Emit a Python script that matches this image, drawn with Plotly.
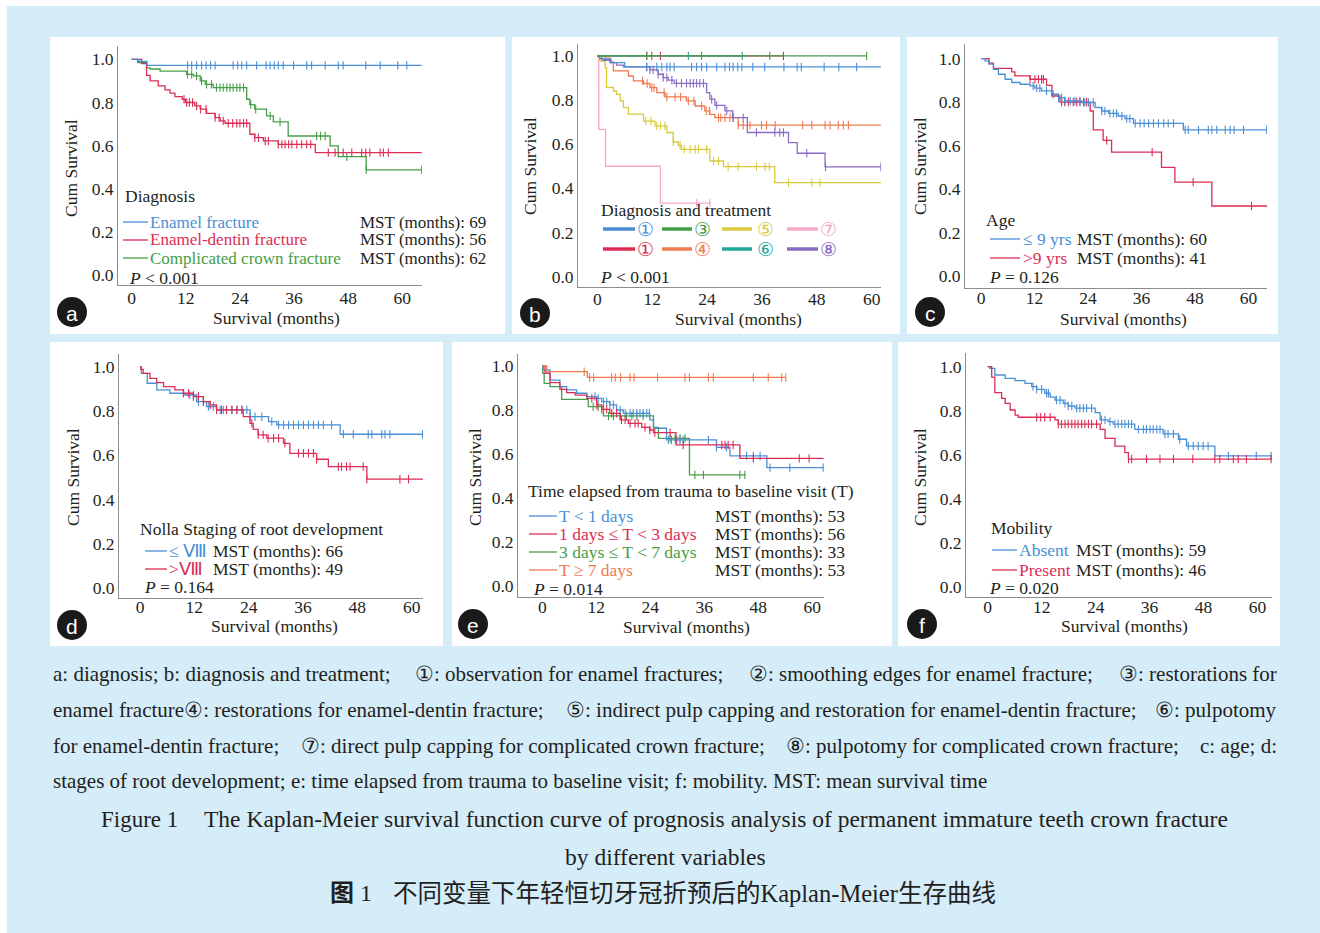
import numpy as np
import plotly.graph_objects as go

W, H = 1320, 933
SERIF = "Liberation Serif, Times New Roman, serif"
CJK = "Liberation Serif, Noto Sans CJK SC, serif"
DARK = "#231f20"
AXC = "#8c8c8c"
BG = "#d5ecf9"

BLUE = "#4a8fd6"
RED = "#dc2d55"
GREEN = "#459e48"
ORANGE = "#f07a50"
YELLOW = "#d8ca3c"
PINK = "#f4a9c8"
TEAL = "#22a89a"
PURPLE = "#8a6cc4"

X_TICKS = [0, 12, 24, 36, 48, 60]
Y_TICKS = [0.0, 0.2, 0.4, 0.6, 0.8, 1.0]
Y_TICK_TEXT = ["0.0", "0.2", "0.4", "0.6", "0.8", "1.0"]

# ---------------- panel a : diagnosis ----------------
A_ENAMEL_T = [1.5, 3.4]
A_ENAMEL_S = [0.99, 0.972]
A_ENAMEL_C = [12.4, 13.3, 14.4, 15.5, 16.5, 17.5, 18.5, 22.5, 23.5, 24.4, 25.5, 27.7, 29.8, 30.7,
              31.6, 32.5, 33.6, 35.9, 38.8, 39.9, 42.9, 45.8, 46.9, 51.9, 55.1, 59.0, 61.0]
A_ENAMEL_END = 64.3

A_DENTIN_T = [2.2, 3.3, 4.1, 5.9, 7.4, 8.5, 9.6, 11.2, 11.9, 14.0, 15.2, 16.6, 18.5, 19.6, 20.7,
              26.2, 27.3, 29.2, 32.5, 40.7]
A_DENTIN_S = [0.98, 0.926, 0.90, 0.877, 0.858, 0.843, 0.827, 0.815, 0.80, 0.784, 0.769, 0.75, 0.73,
              0.715, 0.704, 0.653, 0.637, 0.622, 0.606, 0.568]
A_DENTIN_C = [11.6, 12.2, 12.8, 13.5, 14.4, 15.3, 16.5, 18.5, 19.4, 20.3, 21.4, 22.4, 23.3, 24.0,
              24.8, 25.5, 27.3, 28.1, 29.6, 30.3, 32.5, 33.3, 34.0, 34.8, 35.5, 36.6, 37.7, 38.8,
              39.7, 43.6, 45.1, 46.9, 48.8, 51.0, 51.9, 52.8, 55.1, 55.8, 56.9]
A_DENTIN_END = 64.3

A_COMPL_T = [1.3, 3.3, 4.1, 6.3, 12.2, 13.7, 15.2, 16.3, 18.1, 25.5, 26.2, 27.3, 29.9, 31.4, 34.7,
             44.0, 45.8, 52.0]
A_COMPL_S = [0.985, 0.96, 0.955, 0.945, 0.93, 0.923, 0.90, 0.884, 0.869, 0.815, 0.79, 0.769, 0.738,
             0.71, 0.645, 0.599, 0.549, 0.488]
A_COMPL_C = [12.4, 13.3, 14.4, 15.5, 16.6, 17.7, 18.8, 19.6, 20.3, 21.1, 21.8, 22.5, 23.3, 24.0,
             24.8, 26.4, 27.5, 30.7, 32.9, 41.0, 41.9, 42.9, 47.7, 52.0, 64.3]
A_COMPL_END = 64.3

# ---------------- panel b : diagnosis and treatment ----------------
B1_T = [1.0, 3.0, 6.0]
B1_S = [0.985, 0.97, 0.95]
B1_C = [10.8, 13.0, 14.1, 15.2, 15.9, 16.8, 20.6, 21.7, 22.8, 23.9, 26.1, 27.9, 28.9, 29.7, 30.7,
        31.6, 34.0, 36.6, 40.8, 43.7, 44.6, 49.6, 52.8, 56.7]
B1_END = 62.0

B2_T, B2_S = [], []
B2_C = [10.8, 11.9, 13.8, 40.7]
B2_END = 40.7

B3_T, B3_S = [], []
B3_C = [10.8, 22.8, 37.7, 58.9]
B3_END = 58.9

B6_T, B6_S = [], []
B6_C = [19.9, 31.7]
B6_END = 31.7

B4_T = [1.7, 2.8, 3.5, 6.8, 7.9, 10.1, 11.5, 13.0, 14.8, 19.5, 21.4, 23.5, 24.6, 25.7, 30.8]
B4_S = [0.99, 0.973, 0.932, 0.909, 0.887, 0.875, 0.856, 0.834, 0.814, 0.796, 0.773, 0.751, 0.735,
        0.72, 0.686]
B4_C = [9.9, 10.9, 11.9, 12.4, 14.6, 15.2, 17.0, 18.2, 19.9, 21.1, 22.8, 23.8, 24.5, 26.5, 27.0,
        27.9, 29.0, 29.7, 30.8, 31.9, 33.4, 35.9, 37.0, 38.9, 44.9, 46.9, 49.8, 50.9, 52.7, 53.8, 54.9]
B4_END = 62.0

B5_T = [0.6, 1.7, 2.0, 3.5, 4.2, 5.0, 5.7, 6.8, 10.1, 12.6, 15.2, 16.6, 17.7, 18.4, 24.6, 27.6, 38.8]
B5_S = [0.977, 0.947, 0.857, 0.841, 0.826, 0.796, 0.766, 0.736, 0.705, 0.683, 0.653, 0.61, 0.595,
        0.577, 0.524, 0.498, 0.426]
B5_C = [10.6, 11.7, 13.0, 13.8, 14.8, 16.6, 18.1, 19.0, 20.3, 21.4, 22.1, 23.9, 25.4, 26.5, 28.6,
        30.8, 34.8, 36.7, 37.6, 41.8, 46.9, 48.7]
B5_END = 62.0

B7_T = [0.3, 1.8, 13.8]
B7_S = [0.667, 0.5, 0.333]
B7_C = [21.7, 24.6]
B7_END = 24.9

B8_T = [0.5, 1.3, 2.8, 4.2, 5.7, 11.5, 13.3, 14.4, 15.5, 16.8, 23.9, 24.6, 25.7, 27.9, 29.6, 32.8,
        41.8, 43.7, 49.8]
B8_S = [0.988, 0.98, 0.97, 0.958, 0.95, 0.937, 0.917, 0.902, 0.89, 0.876, 0.834, 0.804, 0.776, 0.751,
        0.72, 0.653, 0.607, 0.559, 0.497]
B8_C = [10.8, 11.5, 12.2, 13.3, 14.4, 15.2, 16.3, 17.3, 18.4, 19.5, 20.3, 21.0, 21.7, 22.4, 23.2,
        25.0, 26.1, 28.3, 29.7, 31.9, 34.8, 38.8, 39.9, 40.7, 45.8, 49.9, 62.0]
B8_END = 62.0

# ---------------- panel c : age ----------------
C_YOUNG_T = [0.9, 1.8, 2.8, 3.9, 5.4, 6.9, 8.8, 11.0, 12.1, 13.6, 15.9, 17.4, 18.8, 22.6, 25.6, 27.1,
             28.6, 30.8, 32.3, 34.2, 45.4]
C_YOUNG_S = [0.989, 0.974, 0.951, 0.928, 0.905, 0.89, 0.882, 0.874, 0.864, 0.851, 0.836, 0.82, 0.805,
             0.798, 0.775, 0.759, 0.748, 0.736, 0.724, 0.702, 0.672]
C_YOUNG_C = [11.7, 12.5, 13.2, 14.7, 16.2, 17.4, 18.1, 18.8, 20.0, 21.1, 22.2, 23.3, 24.1, 25.2, 27.1,
             27.8, 28.9, 29.7, 30.4, 31.6, 32.7, 33.4, 34.6, 35.7, 36.6, 37.6, 38.7, 39.8, 41.0, 42.0,
             43.2, 45.8, 46.5, 48.8, 51.0, 51.8, 52.9, 54.8, 55.9, 56.8, 58.9, 64.1]
C_YOUNG_END = 64.2

C_OLD_T = [1.8, 2.8, 6.9, 7.6, 11.0, 14.7, 15.9, 17.7, 24.5, 25.2, 27.4, 29.3, 40.5, 43.5, 51.8]
C_OLD_S = [0.979, 0.955, 0.939, 0.92, 0.905, 0.877, 0.828, 0.80, 0.759, 0.672, 0.624, 0.57, 0.50,
           0.432, 0.322]
C_OLD_C = [11.0, 12.1, 12.9, 13.6, 14.0, 18.1, 18.8, 19.6, 20.7, 21.5, 22.2, 23.0, 23.7, 28.2, 38.4,
           47.6, 60.7]
C_OLD_END = 64.2

# ---------------- panel d : Nolla stage ----------------
D_LOW_T = [0.3, 1.6, 3.7, 6.6, 9.6, 12.5, 14.7, 16.9, 24.3, 28.4, 30.2, 44.2]
D_LOW_S = [0.97, 0.925, 0.895, 0.88, 0.872, 0.842, 0.82, 0.805, 0.774, 0.752, 0.737, 0.695]
D_LOW_C = [11.0, 11.8, 12.9, 14.0, 15.1, 16.2, 16.9, 17.7, 18.4, 19.1, 20.3, 21.4, 22.5, 23.6, 24.3,
           25.4, 26.9, 29.1, 30.6, 31.7, 32.8, 33.9, 35.0, 36.1, 37.2, 38.3, 39.4, 40.5, 42.3, 44.9,
           47.1, 50.4, 51.2, 53.4, 54.1, 55.2, 62.4]
D_LOW_END = 62.5

D_HIGH_T = [0.2, 0.7, 2.2, 3.7, 5.2, 7.7, 9.6, 11.8, 14.0, 15.5, 16.9, 22.8, 24.3, 25.0, 26.1, 28.0,
            31.7, 33.1, 39.0, 41.6, 50.1]
D_HIGH_S = [0.988, 0.97, 0.947, 0.928, 0.91, 0.895, 0.88, 0.865, 0.842, 0.827, 0.805, 0.774, 0.744,
            0.717, 0.692, 0.677, 0.654, 0.609, 0.582, 0.549, 0.492]
D_HIGH_C = [9.6, 10.7, 11.8, 12.9, 14.0, 15.5, 16.9, 18.0, 19.1, 20.3, 21.4, 22.5, 24.7, 26.1, 27.2,
            28.3, 29.5, 30.6, 32.0, 35.0, 36.1, 37.2, 38.3, 39.0, 43.8, 44.5, 45.6, 46.4, 49.3, 50.1,
            57.4, 59.3]
D_HIGH_END = 62.5

# ---------------- panel e : time to visit ----------------
E_LT1_T = [0.2, 1.7, 3.9, 5.4, 7.6, 9.9, 12.1, 13.2, 15.0, 16.5, 18.0, 23.9, 24.7, 27.6, 38.7, 41.7, 49.9]
E_LT1_S = [0.982, 0.936, 0.906, 0.891, 0.876, 0.861, 0.853, 0.838, 0.823, 0.80, 0.785, 0.755, 0.717,
           0.664, 0.63, 0.591, 0.538]
E_LT1_C = [11.7, 12.4, 13.6, 14.3, 15.0, 15.8, 17.3, 18.4, 19.5, 20.2, 21.0, 21.7, 22.4, 23.2, 23.8,
           28.0, 28.7, 29.9, 30.6, 31.3, 36.9, 38.7, 40.9, 45.4, 46.9, 48.4, 50.6, 55.0, 62.4]
E_LT1_END = 62.5

E_1TO3_T = [0.6, 1.7, 3.9, 5.4, 7.3, 9.9, 12.1, 13.2, 15.0, 17.3, 19.1, 22.1, 23.9, 24.7, 29.7, 43.9]
E_1TO3_S = [0.967, 0.924, 0.894, 0.879, 0.868, 0.853, 0.823, 0.803, 0.785, 0.755, 0.739, 0.721, 0.709,
            0.697, 0.641, 0.58]
E_1TO3_C = [11.0, 12.1, 13.2, 14.3, 15.4, 16.5, 17.6, 18.4, 19.5, 20.6, 21.3, 22.8, 23.9, 25.0, 28.4,
            31.3, 39.9, 40.6, 41.3, 42.4, 46.9, 57.1, 59.3]
E_1TO3_END = 62.5

E_3TO7_T = [0.1, 0.4, 1.7, 4.3, 10.2, 13.6, 24.7, 25.8, 32.7]
E_3TO7_S = [0.967, 0.921, 0.906, 0.848, 0.815, 0.773, 0.721, 0.671, 0.505]
E_3TO7_C = [11.3, 12.4, 14.7, 15.8, 17.3, 18.7, 19.9, 21.0, 22.4, 28.4, 29.5, 30.6, 31.7, 33.9, 35.8,
            43.9, 45.0]
E_3TO7_END = 45.2

E_GE7_T = [1.0, 10.0]
E_GE7_S = [0.974, 0.948]
E_GE7_C = [9.3, 10.5, 11.4, 15.4, 16.2, 17.4, 19.5, 20.4, 25.6, 31.7, 32.7, 36.9, 38.0, 46.9, 50.2,
           53.2, 54.1]
E_GE7_END = 54.1

# ---------------- panel f : mobility ----------------
F_ABS_T = [0.5, 1.6, 3.9, 6.1, 8.3, 9.8, 10.9, 12.7, 13.9, 15.0, 16.8, 17.9, 19.4, 23.9, 25.0, 26.8,
           27.9, 32.7, 39.0, 42.4, 44.2, 50.5]
F_ABS_S = [0.992, 0.962, 0.947, 0.936, 0.924, 0.909, 0.897, 0.879, 0.861, 0.848, 0.833, 0.821, 0.811,
           0.791, 0.758, 0.75, 0.739, 0.715, 0.694, 0.67, 0.639, 0.594]
F_ABS_C = [10.1, 10.9, 12.0, 13.1, 13.5, 15.3, 16.1, 17.2, 17.9, 18.7, 19.8, 20.5, 21.3, 22.0, 23.1,
           25.3, 26.1, 27.2, 28.3, 29.0, 29.8, 30.5, 31.3, 32.0, 33.5, 34.6, 35.3, 36.1, 36.8, 37.6,
           38.3, 39.4, 40.1, 41.3, 42.7, 44.6, 45.7, 46.8, 47.9, 49.0, 53.5, 59.7, 63.0]
F_ABS_END = 63.0

F_PRES_T = [0.9, 1.6, 3.1, 3.9, 5.0, 6.1, 6.8, 15.0, 15.7, 25.0, 26.1, 28.3, 30.5, 31.3]
F_PRES_S = [0.952, 0.882, 0.856, 0.833, 0.803, 0.78, 0.77, 0.758, 0.739, 0.715, 0.674, 0.639, 0.609, 0.58]
F_PRES_C = [10.9, 11.8, 12.7, 13.9, 15.7, 16.4, 17.2, 17.9, 18.7, 19.4, 20.1, 20.9, 21.6, 22.4, 23.1,
            24.2, 31.3, 32.0, 35.3, 38.3, 41.3, 45.6, 50.5, 51.6, 54.6, 55.7, 57.5, 63.0]
F_PRES_END = 63.0

# ---------------- layout geometry (pixels) ----------------
# key, axis-left, axis-right, axis-top, axis-bottom, xmin, xmax, ymin, ymax, x-ticklabel standoff
PANEL_AXES = [
    ("a", 118, 422, 46, 285, -3.03, 64.37, -0.045, 1.0616, -3),
    ("b", 578, 881, 44, 287, -4.23, 62.03, -0.047, 1.054, -4),
    ("c", 965, 1267, 44, 288, -3.59, 64.17, -0.055, 1.067, -6),
    ("d", 119, 423, 354, 598, -4.64, 62.5, -0.044, 1.057, -7),
    ("e", 518, 824, 354, 597, -5.41, 62.6, -0.05, 1.0545, -6),
    ("f", 966, 1272, 353, 597, -4.81, 63.2, -0.047, 1.062, -6),
]
PANEL_BOXES = [(50, 505, 37, 334), (512, 900, 37, 334), (907, 1278, 37, 334),
               (50, 443, 342, 646), (452, 892, 342, 646), (898, 1280, 342, 646)]
BADGES = [(72, 312), (535, 313), (930, 312), (72, 625), (473, 624), (922, 624)]
YTITLE_POS = [(71, 168), (530, 166), (920, 166), (73, 477), (475, 477), (920, 477)]
XTITLE_POS = [(276, 318), (738, 319), (1123, 319), (274, 626), (686, 627), (1124, 626)]


def fx(p):
    return p / W


def fy(p):
    return 1 - p / H


def axis_name(i):
    return "" if i == 0 else str(i + 1)


def km_line(T, S, end):
    xs = [0.0] + list(T) + [end]
    ys = [1.0] + list(S) + [S[-1] if len(S) else 1.0]
    return xs, ys


def censor_y(T, S, C):
    idx = np.searchsorted(np.asarray(T, dtype=float), np.asarray(C, dtype=float), side="right")
    full = np.concatenate([[1.0], np.asarray(S, dtype=float)])
    return full[idx]


CURVES = [
    (0, GREEN, A_COMPL_T, A_COMPL_S, A_COMPL_C, A_COMPL_END),
    (0, RED, A_DENTIN_T, A_DENTIN_S, A_DENTIN_C, A_DENTIN_END),
    (0, BLUE, A_ENAMEL_T, A_ENAMEL_S, A_ENAMEL_C, A_ENAMEL_END),
    (1, PINK, B7_T, B7_S, B7_C, B7_END),
    (1, YELLOW, B5_T, B5_S, B5_C, B5_END),
    (1, ORANGE, B4_T, B4_S, B4_C, B4_END),
    (1, PURPLE, B8_T, B8_S, B8_C, B8_END),
    (1, BLUE, B1_T, B1_S, B1_C, B1_END),
    (1, RED, B2_T, B2_S, B2_C, B2_END),
    (1, TEAL, B6_T, B6_S, B6_C, B6_END),
    (1, GREEN, B3_T, B3_S, B3_C, B3_END),
    (2, RED, C_OLD_T, C_OLD_S, C_OLD_C, C_OLD_END),
    (2, BLUE, C_YOUNG_T, C_YOUNG_S, C_YOUNG_C, C_YOUNG_END),
    (3, BLUE, D_LOW_T, D_LOW_S, D_LOW_C, D_LOW_END),
    (3, RED, D_HIGH_T, D_HIGH_S, D_HIGH_C, D_HIGH_END),
    (4, GREEN, E_3TO7_T, E_3TO7_S, E_3TO7_C, E_3TO7_END),
    (4, BLUE, E_LT1_T, E_LT1_S, E_LT1_C, E_LT1_END),
    (4, RED, E_1TO3_T, E_1TO3_S, E_1TO3_C, E_1TO3_END),
    (4, ORANGE, E_GE7_T, E_GE7_S, E_GE7_C, E_GE7_END),
    (5, BLUE, F_ABS_T, F_ABS_S, F_ABS_C, F_ABS_END),
    (5, RED, F_PRES_T, F_PRES_S, F_PRES_C, F_PRES_END),
]

fig = go.Figure()
for (p, col, T, S, C, end) in CURVES:
    n = axis_name(p)
    xs, ys = km_line(T, S, end)
    fig.add_trace(go.Scatter(x=xs, y=ys, mode="lines", xaxis="x" + n, yaxis="y" + n,
                             line=dict(color=col, width=1.3, shape="hv"),
                             showlegend=False, hoverinfo="skip"))
    fig.add_trace(go.Scatter(x=C, y=censor_y(T, S, C), mode="markers", xaxis="x" + n, yaxis="y" + n,
                             marker=dict(symbol="line-ns", size=6, color=col,
                                         line=dict(color=col, width=1.1)),
                             showlegend=False, hoverinfo="skip"))

layout = dict(width=W, height=H, margin=dict(l=0, r=0, t=0, b=0), autosize=False,
              paper_bgcolor="white", plot_bgcolor="rgba(0,0,0,0)", showlegend=False)
TICKFONT = dict(family=SERIF, size=17.5, color=DARK)
for i, (key, l, r, t, b, x0, x1, y0, y1, stand) in enumerate(PANEL_AXES):
    n = axis_name(i)
    layout["xaxis" + n] = dict(domain=[fx(l), fx(r)], range=[x0, x1], anchor="y" + n,
                               tickvals=X_TICKS, ticktext=[str(v) for v in X_TICKS],
                               showline=True, linecolor=AXC, linewidth=1, showgrid=False,
                               zeroline=False, ticks="", tickfont=TICKFONT, fixedrange=True,
                               ticklabelstandoff=stand)
    layout["yaxis" + n] = dict(domain=[fy(b), fy(t)], range=[y0, y1], anchor="x" + n,
                               tickvals=Y_TICKS, ticktext=Y_TICK_TEXT,
                               showline=True, linecolor=AXC, linewidth=1, showgrid=False,
                               zeroline=False, ticks="", tickfont=TICKFONT, fixedrange=True)

shapes = []
shapes.append(dict(type="rect", xref="paper", yref="paper", x0=fx(7), x1=fx(1320), y0=fy(933), y1=fy(6),
                   fillcolor=BG, line=dict(width=0), layer="below"))
for (l, r, t, b) in PANEL_BOXES:
    shapes.append(dict(type="rect", xref="paper", yref="paper", x0=fx(l), x1=fx(r), y0=fy(b), y1=fy(t),
                       fillcolor="white", line=dict(width=0), layer="below"))
for (cx, cy) in BADGES:
    shapes.append(dict(type="circle", xref="paper", yref="paper", x0=fx(cx - 15), x1=fx(cx + 15),
                       y0=fy(cy + 15), y1=fy(cy - 15), fillcolor="#1a1a1a", line=dict(width=0)))

annotations = []


def text(x, y, s, size=17.5, color=DARK, xa="left", family=SERIF, angle=0):
    annotations.append(dict(x=fx(x), y=fy(y), xref="paper", yref="paper", text=s, showarrow=False,
                            xanchor=xa, yanchor="middle", textangle=angle, borderpad=0,
                            font=dict(size=size, color=color, family=family)))


def legline(x0, x1, y, col, w=1.3):
    shapes.append(dict(type="line", xref="paper", yref="paper", x0=fx(x0), x1=fx(x1), y0=fy(y), y1=fy(y),
                       line=dict(color=col, width=w)))


for i, (bx, by) in enumerate(BADGES):
    text(bx, by + 1, "abcdef"[i], size=21, color="white", xa="center",
         family="Liberation Sans, Arial, sans-serif")
for (x, y) in YTITLE_POS:
    text(x, y, "Cum Survival", xa="center", angle=-90)
for (x, y) in XTITLE_POS:
    text(x, y, "Survival (months)", xa="center")

# panel a legend
text(124, 196, "Diagnosis")
A_LABELS = ["Enamel fracture", "Enamel-dentin fracture", "Complicated crown fracture"]
A_MST = [69, 56, 62]
for j, (lab, col, mst) in enumerate(zip(A_LABELS, [BLUE, RED, GREEN], A_MST)):
    y = [222, 240, 258][j]
    legline(123, 148, y, col)
    text(149, y, lab, color=col, size=17)
    text(359, y, "MST (months): %d" % mst, size=17)
text(128, 278, "<i>P</i> &lt; 0.001")

# panel b legend
text(600, 210, "Diagnosis and treatment")
B_LEG = [[("①", BLUE), ("③", GREEN), ("⑤", YELLOW), ("⑦", PINK)],
         [("①", RED), ("④", ORANGE), ("⑥", TEAL), ("⑧", PURPLE)]]
B_COLS = [(603, 635, 645), (662, 692, 702), (722, 752, 765), (787, 818, 828)]
for r, row in enumerate(B_LEG):
    y = [229, 249][r]
    for c, (lab, col) in enumerate(row):
        x0, x1, xc = B_COLS[c]
        legline(x0, x1, y, col, w=3.5)
        text(xc, y, lab, color=col, xa="center", size=19)
text(599, 277, "<i>P</i> &lt; 0.001")

# panel c legend
text(985, 220, "Age")
C_LABELS = ["≤ 9 yrs", ">9 yrs"]
C_MST = [60, 41]
for j, (lab, col, mst) in enumerate(zip(C_LABELS, [BLUE, RED], C_MST)):
    y = [239, 258][j]
    legline(990, 1020, y, col)
    text(1022, y, lab, color=col)
    text(1076, y, "MST (months): %d" % mst)
text(988, 277, "<i>P</i> = 0.126")

# panel d legend
text(139, 529, "Nolla Staging of root development")
D_LABELS = ["≤ Ⅷ", ">Ⅷ"]
D_MST = [66, 49]
for j, (lab, col, mst) in enumerate(zip(D_LABELS, [BLUE, RED], D_MST)):
    y = [551, 569][j]
    legline(145, 167, y, col)
    text(168, y, lab, color=col)
    text(212, y, "MST (months): %d" % mst)
text(143, 587, "<i>P</i> = 0.164")

# panel e legend
text(527, 491, "Time elapsed from trauma to baseline visit (T)")
E_LABELS = ["T &lt; 1 days", "1 days ≤ T &lt; 3 days", "3 days ≤ T &lt; 7 days", "T ≥ 7 days"]
E_MST = [53, 56, 33, 53]
for j, (lab, col, mst) in enumerate(zip(E_LABELS, [BLUE, RED, GREEN, ORANGE], E_MST)):
    y = [516, 534, 552, 570][j]
    legline(529, 557, y, col)
    text(558, y, lab, color=col)
    text(714, y, "MST (months): %d" % mst)
text(532, 589, "<i>P</i> = 0.014")

# panel f legend
text(990, 528, "Mobility")
F_LABELS = ["Absent", "Present"]
F_MST = [59, 46]
for j, (lab, col, mst) in enumerate(zip(F_LABELS, [BLUE, RED], F_MST)):
    y = [550, 570][j]
    legline(992, 1017, y, col)
    text(1018, y, lab, color=col)
    text(1075, y, "MST (months): %d" % mst)
text(988, 588, "<i>P</i> = 0.020")

# caption (justified lines approximated by chunks)
CAP = 21
CAPTION_LINES = [
    (674, [(52, "left", "a: diagnosis; b: diagnosis and treatment;"),
           (414, "left", "①: observation for enamel fractures;"),
           (748, "left", "②: smoothing edges for enamel fracture;"),
           (1278, "right", "③: restorations for")]),
    (710, [(52, "left", "enamel fracture④: restorations for enamel-dentin fracture;"),
           (565, "left", "⑤: indirect pulp capping and restoration for enamel-dentin fracture;"),
           (1278, "right", "⑥: pulpotomy")]),
    (746, [(52, "left", "for enamel-dentin fracture;"),
           (300, "left", "⑦: direct pulp capping for complicated crown fracture;"),
           (785, "left", "⑧: pulpotomy for complicated crown fracture;"),
           (1278, "right", "c: age; d:")]),
    (781, [(52, "left", "stages of root development; e: time elapsed from trauma to baseline visit; "
                        "f: mobility. MST: mean survival time")]),
]
for (y, chunks) in CAPTION_LINES:
    for (x, xa, s) in chunks:
        text(x, y, s, size=CAP, xa=xa)

text(100, 819, "Figure 1", size=23)
text(1229, 819, "The Kaplan-Meier survival function curve of prognosis analysis of permanent "
                "immature teeth crown fracture", size=23.5, xa="right")
text(665, 857, "by different variables", size=23.5, xa="center")
text(329, 893, "<b>图</b> 1", size=24, xa="left", family=CJK)
text(392, 893, "不同变量下年轻恒切牙冠折预后的Kaplan-Meier生存曲线", size=24.5,
     xa="left", family=CJK)

layout["shapes"] = shapes
layout["annotations"] = annotations
fig.update_layout(**layout)

fig.write_html("out.html", include_plotlyjs=True, config={"displayModeBar": False},
               post_script="document.body.style.margin='0';document.body.style.overflow='hidden';")
